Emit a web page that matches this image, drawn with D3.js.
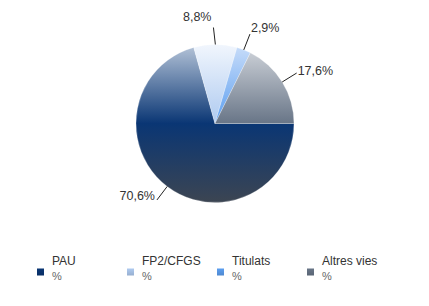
<!DOCTYPE html>
<html>
<head>
<meta charset="utf-8">
<script src="https://cdn.jsdelivr.net/npm/d3@7"></script>
<style>
  body { margin: 0; background: #fff; }
  svg { display: block; font-family: "Liberation Sans", Arial, sans-serif; }
</style>
</head>
<body>
<svg id="chart" width="429" height="306"></svg>
<script>
// pie of access routes, with leader labels and a legend under it

var categories = ["PAU", "FP2/CFGS", "Titulats", "Altres vies"];
var values = [70.6, 8.8, 2.9, 17.6];
var valueLabels = ["70,6%", "8,8%", "2,9%", "17,6%"];
var legendSub = ["%", "%", "%", "%"];

// gradient stops per slice: top, middle, bottom of the pie
var colors = [
  ["#b6c5d9", "#0a3674", "#3c4552"],
  ["#f1f6fd", "#aecaf0", "#90b4e4"],
  ["#c9ddf9", "#5b9ef0", "#4a86d8"],
  ["#d3d7dd", "#687587", "#3a4250"]
];

var svg = d3.select("#chart"),
    cx = 215, cy = 123.5, r = 79,
    g = svg.append("g").attr("transform", "translate(" + cx + "," + cy + ")");

var defs = svg.append("defs");
colors.forEach(function(c, i) {
  var lg = defs.append("linearGradient")
      .attr("id", "grad" + i)
      .attr("gradientUnits", "userSpaceOnUse")
      .attr("x1", 0).attr("y1", -r).attr("x2", 0).attr("y2", r);
  lg.append("stop").attr("offset", "0%").attr("stop-color", c[0]);
  lg.append("stop").attr("offset", "50%").attr("stop-color", c[1]);
  lg.append("stop").attr("offset", "100%").attr("stop-color", c[2]);

  var lq = defs.append("linearGradient")
      .attr("id", "sq" + i)
      .attr("x1", 0).attr("y1", 0).attr("x2", 0).attr("y2", 1);
  lq.append("stop").attr("offset", "0%").attr("stop-color", c[1]);
  lq.append("stop").attr("offset", "100%").attr("stop-color", d3.rgb(c[1]).darker(0.4));
});

var pie = d3.pie()
    .value(function(d) { return d; })
    .sort(null)
    .startAngle(Math.PI / 2)
    .endAngle(Math.PI / 2 + 2 * Math.PI);

var arcs = pie(values);

var arc = d3.arc().innerRadius(0).outerRadius(r);

// draw the slices
g.selectAll("path.slice")
    .data(arcs)
    .enter().append("path")
    .attr("class", "slice")
    .attr("d", arc)
    .attr("fill", function(d, i) { return "url(#grad" + i + ")"; })
    .attr("stroke", "#fff")
    .attr("stroke-width", 0.25);

// leader lines and labels
var labelDy = [0, -7, -2, 2];
var rOut = 96;
arcs.forEach(function(d, i) {
  var a = (d.startAngle + d.endAngle) / 2,
      x0 = Math.sin(a) * r, y0 = -Math.cos(a) * r,
      x1 = Math.sin(a) * rOut, y1 = -Math.cos(a) * rOut;
  if (i == 1) x1 -= 2;
  g.append("line")
      .attr("x1", x0).attr("y1", y0).attr("x2", x1).attr("y2", y1)
      .attr("stroke", "#222").attr("stroke-width", 1);
  var left = x1 < 0;
  g.append("text")
      .attr("x", x1 + (left ? -2 : 1))
      .attr("y", y1 + labelDy[i])
      .attr("text-anchor", left ? "end" : "start")
      .attr("font-size", "12.5px")
      .attr("fill", "#333")
      .text(valueLabels[i]);
});

// legend
var lx = d3.scalePoint().domain(categories).range([37, 307]);
var leg = svg.append("g").selectAll("g")
    .data(categories)
    .enter().append("g")
    .attr("transform", function(d) { return "translate(" + lx(d) + ",0)"; });

leg.append("rect")
    .attr("x", 0).attr("y", 268.5)
    .attr("width", 7).attr("height", 7)
    .attr("fill", function(d, i) { return "url(#sq" + i + ")"; });

leg.append("text")
    .attr("x", 15).attr("y", 265)
    .attr("font-size", "12px")
    .attr("fill", "#333")
    .text(function(d) { return d; });

leg.append("text")
    .attr("x", 15).attr("y", 280)
    .attr("font-size", "11px")
    .attr("fill", "#666")
    .text(function(d, i) { return legendSub[i]; });
</script>
</body>
</html>
